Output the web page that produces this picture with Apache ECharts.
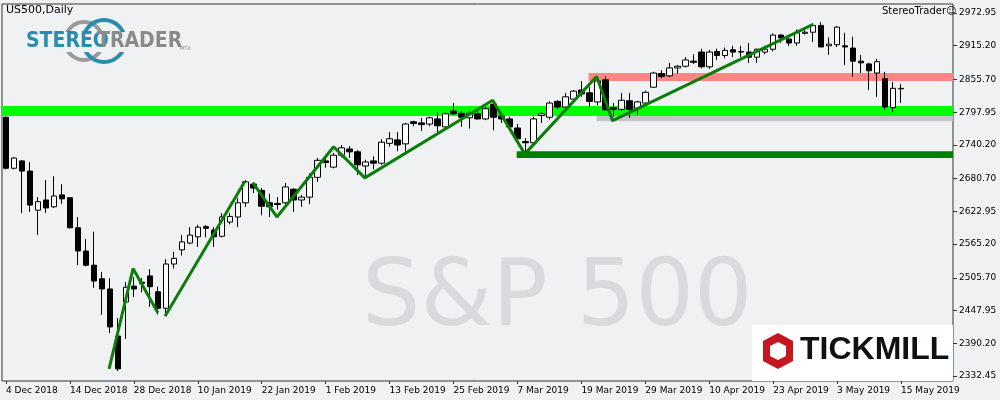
<!DOCTYPE html>
<html><head><meta charset="utf-8">
<script src="https://cdn.jsdelivr.net/npm/echarts@6/dist/echarts.min.js"></script>
<style>html,body{margin:0;padding:0;background:#f0f1f3}#c{width:1000px;height:400px}</style>
</head><body><div id="c"></div>
<script>
// [open, close, low, high]
const ohlc = [
[2789,2699,2697,2790],[2699,2717,2697,2719],[2712,2694,2620,2713],[2694,2634,2622,2710],[2625,2640,2581,2648],
[2643,2629,2620,2678],[2631,2650,2629,2685],[2652,2645,2636,2671],[2647,2594,2593,2647],[2594,2553,2528,2613],
[2553,2528,2526,2574],[2528,2500,2488,2587],[2504,2486,2440,2516],[2486,2419,2408,2505],[2403,2345,2341,2435],
[2463,2489,2398,2498],[2491,2486,2472,2507],[2498,2496,2480,2505],[2509,2490,2454,2521],[2481,2452,2441,2490],
[2452,2530,2443,2539],[2530,2540,2522,2552],[2555,2569,2545,2581],[2567,2581,2565,2595],[2578,2595,2560,2599],
[2596,2593,2577,2599],[2590,2578,2560,2595],[2579,2613,2577,2620],[2604,2614,2600,2620],[2613,2638,2595,2647],
[2638,2675,2631,2678],[2671,2664,2655,2674],[2660,2632,2616,2664],[2638,2631,2613,2654],[2637,2635,2626,2648],
[2638,2666,2635,2673],[2662,2643,2622,2664],[2643,2648,2631,2652],[2648,2683,2636,2690],[2683,2713,2675,2717],
[2712,2709,2700,2717],[2701,2722,2699,2726],[2722,2735,2718,2740],[2733,2728,2717,2738],[2728,2705,2687,2731],
[2703,2710,2685,2714],[2712,2708,2697,2720],[2708,2745,2705,2750],[2743,2751,2737,2763],[2749,2740,2729,2763],
[2742,2777,2728,2779],[2781,2778,2773,2783],[2779,2776,2765,2788],[2777,2788,2773,2790],[2786,2774,2763,2798],
[2772,2795,2770,2798],[2800,2795,2793,2814],[2796,2789,2772,2800],[2788,2796,2769,2800],[2795,2786,2785,2800],
[2786,2804,2784,2807],[2812,2789,2766,2814],[2791,2786,2779,2795],[2786,2772,2765,2790],[2770,2751,2749,2777],
[2746,2744,2728,2752],[2744,2786,2741,2790],[2792,2795,2779,2798],[2789,2814,2785,2817],[2817,2807,2803,2819],
[2807,2825,2805,2832],[2821,2835,2818,2837],[2837,2830,2825,2853],[2832,2817,2807,2843],[2816,2853,2810,2860],
[2855,2802,2802,2861],[2806,2803,2790,2814],[2803,2819,2800,2832],[2818,2803,2788,2832],[2805,2816,2793,2818],
[2814,2833,2812,2836],[2842,2867,2841,2869],[2866,2861,2858,2872],[2862,2876,2860,2885],[2876,2879,2866,2881],
[2879,2890,2877,2895],[2888,2886,2883,2900],[2904,2878,2875,2910],[2878,2904,2874,2908],[2905,2898,2890,2910],
[2898,2907,2893,2912],[2908,2904,2895,2915],[2905,2904,2895,2915],[2904,2895,2885,2920],[2895,2909,2885,2910],
[2904,2909,2900,2915],[2909,2934,2905,2937],[2934,2929,2920,2936],[2927,2920,2915,2929],[2920,2938,2915,2944],
[2937,2939,2935,2944],[2939,2951,2922,2955],[2951,2913,2913,2957],[2915,2918,2899,2930],[2917,2948,2913,2950],
[2915,2913,2881,2938],[2911,2888,2860,2931],[2888,2885,2867,2899],[2883,2871,2837,2885],[2867,2887,2825,2892],
[2857,2807,2802,2869],[2806,2840,2798,2851],[2839,2840,2814,2848]
];
const tickLabels = ['4 Dec 2018','14 Dec 2018','28 Dec 2018','10 Jan 2019','22 Jan 2019','1 Feb 2019','13 Feb 2019',
 '25 Feb 2019','7 Mar 2019','19 Mar 2019','29 Mar 2019','10 Apr 2019','23 Apr 2019','3 May 2019','15 May 2019'];
const priceTicks = [2972.95,2915.20,2855.70,2797.95,2740.20,2680.70,2622.95,2565.20,2505.70,2447.95,2390.20,2332.45];
// zigzag segments [barIndex, price]
const zig1 = [[12.9,2345],[15.9,2522],[19.0,2444]];
const zig2 = [[19.9,2438],[29.9,2676]];
const zig3 = [[30.9,2673],[33.9,2613],[41.0,2737],[44.9,2682],[60.9,2819],[64.8,2727]];
const zig4 = [[65.1,2727],[73.9,2861],[75.9,2783],[101.0,2953]];
// zones [startBar, top, bottom]
const zoneGreen = [-0.5,2809,2791];
const zonePink = [72.9,2867,2853];
const zoneGrey = [73.9,2791,2782];
const zoneDark = [63.9,2729,2717];

const N = ohlc.length;
const PAD = 6;
const cats = ohlc.map((d,i)=>String(i)).concat(Array.from({length:PAD},(d,i)=>'p'+i));
const XMAX = N - 0.5 + PAD;
const labelAt = {}; tickLabels.forEach((t,k)=>labelAt[k*8]=t);
const chart = echarts.init(document.getElementById('c'));
const zone = (z,color)=>[{coord:[z[0],z[1]],itemStyle:{color}},{coord:[XMAX,z[2]]}];
const lineS = (d)=>({type:'line',xAxisIndex:1,yAxisIndex:0,data:d,symbol:'none',lineStyle:{color:'#0b7d0b',width:3},z:5,silent:true});
chart.setOption({
 animation:false,
 backgroundColor:'#f0f1f3',
 grid:{left:2,right:47,top:4,bottom:19,show:true,borderColor:'#333',borderWidth:1,backgroundColor:'#f0f1f3'},
 xAxis:[
  {type:'category',data:cats,boundaryGap:true,
   axisLine:{show:false,onZero:false},
   axisTick:{show:true,interval:(i)=>labelAt[i]!==undefined,alignWithLabel:true,length:3,lineStyle:{color:'#333'}},
   axisLabel:{interval:(i)=>labelAt[i]!==undefined,formatter:(v,i)=>labelAt[i]||'',align:'left',margin:5,
     fontFamily:'DejaVu Sans',fontSize:9,color:'#000'},splitLine:{show:false}},
  {type:'value',min:-0.5,max:XMAX,show:false}
 ],
 yAxis:[{type:'value',position:'right',min:2323.6,max:2988.8,scale:true,
   axisLine:{show:false,onZero:false},splitLine:{show:false},
   axisTick:{show:true,customValues:priceTicks,length:4,lineStyle:{color:'#333'}},
   axisLabel:{customValues:priceTicks,formatter:v=>v.toFixed(2),fontFamily:'DejaVu Sans',fontSize:9,color:'#000',margin:6}}],
 graphic:[
  {type:'text',left:362,top:255,style:{text:'S&P 500',font:'92px "DejaVu Sans"',fill:'#d8dadd'},z:0},
  {type:'text',left:6,top:5,style:{text:'US500,Daily',font:'11px "DejaVu Sans"',fill:'#000'}},
  {type:'text',left:882,top:6,style:{text:'StereoTrader☺',font:'10px "DejaVu Sans"',fill:'#000'}},
  {type:'circle',shape:{cx:84,cy:41,r:19},style:{fill:'none',stroke:'#9a9a9a',lineWidth:4},z:1},
  {type:'circle',shape:{cx:104,cy:41,r:21},style:{fill:'none',stroke:'#2a8db0',lineWidth:4},z:1},
  {type:'rect',shape:{x:24,y:32,width:122,height:20},style:{fill:'#f0f1f3'},z:2},
  {type:'text',left:26,top:31,style:{text:'STEREO',font:'bold 21px "DejaVu Sans Condensed"',fill:'#2a8db0'},z:3},
  {type:'text',left:97,top:31,style:{text:'TRADER',font:'bold 21px "DejaVu Sans Condensed"',fill:'#8a8a8a'},z:3},
  {type:'text',left:180,top:46,style:{text:'MT4',font:'5px "DejaVu Sans"',fill:'#888'},z:3},
  {type:'rect',shape:{x:752,y:325,width:201,height:56},style:{fill:'#fff'},z:20},
  {type:'polygon',shape:{points:[[778,333],[793,341],[793,361],[778,369],[763,361],[763,341]]},style:{fill:'#c4161c'},z:21},
  {type:'polygon',shape:{points:[[778,342],[786,346],[786,356],[778,360],[770,356],[770,346]]},style:{fill:'#fff'},z:22},
  {type:'text',left:800,top:334,style:{text:'TICKMILL',font:'bold 32px "Liberation Sans"',fill:'#111'},z:22}
 ],
 series:[
  {type:'line',xAxisIndex:1,data:[],z:1,silent:true,
   markArea:{silent:true,data:[zone(zoneGreen,'#00ff00'),zone(zonePink,'#ff8585'),zone(zoneGrey,'#c4c4c4'),zone(zoneDark,'#008000')]}},
  {type:'candlestick',data:ohlc,barWidth:6,z:3,
   itemStyle:{color:'#ffffff',color0:'#000000',borderColor:'#000000',borderColor0:'#000000',borderWidth:1}},
  lineS(zig1),lineS(zig2),lineS(zig3),lineS(zig4)
 ]
});
</script></body></html>
